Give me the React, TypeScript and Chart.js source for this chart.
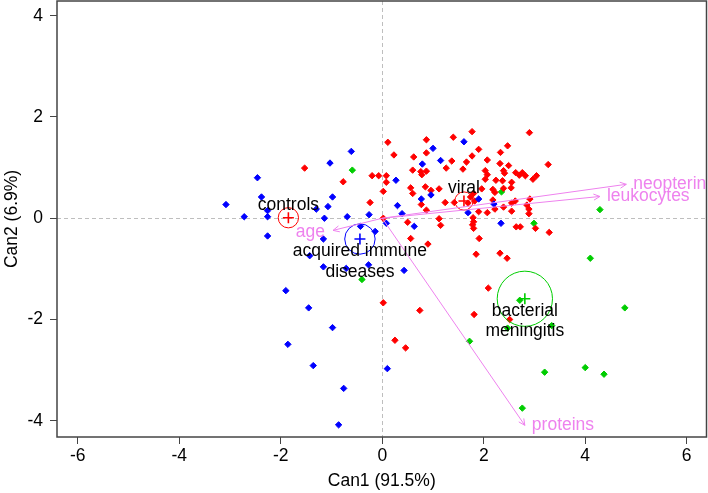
import React, { useEffect, useRef } from 'react';
import { Chart, registerables } from 'chart.js';

Chart.register(...registerables);

// ---------------- data ----------------
const xTicks = [-6, -4, -2, 0, 2, 4, 6];
const yTicks = [-4, -2, 0, 2, 4];
const X_MIN = -6.41;
const X_MAX = 6.39;
const Y_MIN = -4.32;
const Y_MAX = 4.29;

const bluePoints: [number, number][] = [
  [-0.61, 1.32], [1.61, 1.51], [1.0, 1.38], [0.79, 1.07], [1.15, 1.14], [0.27, 0.75], [0.77, 0.38], [0.96, 0.46],
  [0.3, 0.25], [-0.26, 0.07], [0.39, 0.09], [-0.69, 0.03], [0.08, -0.1], [0.63, -0.16], [1.69, 0.11], [1.9, 0.38],
  [2.2, 0.28], [2.34, -0.1], [-0.43, -0.16], [-0.14, -0.26], [-3.08, 0.27], [-2.72, 0.03], [-2.46, 0.8], [-2.38, 0.42],
  [-2.26, 0.15], [-2.26, 0.03], [-2.26, -0.35], [-1.3, 0.18], [-1.07, 0.23], [-1.03, 1.09], [-0.98, 0.42], [-1.14, 0.0],
  [-1.16, -0.41], [-1.43, -0.74], [-1.16, -0.96], [-0.71, -0.99], [-1.9, -1.43], [-1.45, -1.77], [-0.98, -2.16],
  [-1.86, -2.49], [-1.36, -2.91], [-0.76, -3.36], [-0.86, -4.08], [-0.27, -0.92], [0.43, -1.03], [0.1, -2.97],
];

const redPoints: [number, number][] = [
  [-1.53, 0.99], [-0.77, 0.72], [0.11, 1.5], [0.23, 1.25], [0.87, 1.55], [1.4, 1.6], [1.77, 1.71], [2.9, 1.69],
  [1.9, 1.36], [2.47, 1.43], [2.33, 1.3], [0.87, 1.29], [0.62, 1.21], [1.37, 1.13], [1.77, 1.23], [1.66, 1.11],
  [2.07, 1.15], [2.32, 1.08], [2.49, 1.04], [3.27, 1.06], [0.6, 0.95], [1.26, 0.99], [1.59, 0.97], [0.76, 0.92],
  [0.87, 0.93], [0.78, 0.86], [-0.2, 0.84], [-0.07, 0.84], [0.08, 0.84], [0.08, 0.71], [2.03, 0.94], [2.07, 0.86],
  [2.39, 0.94], [2.41, 0.89], [2.63, 0.9], [2.76, 0.9], [2.7, 0.85], [2.82, 0.84], [3.04, 0.84], [2.97, 0.77],
  [2.37, 0.74], [2.24, 0.75], [2.55, 0.71], [2.03, 0.77], [0.85, 0.62], [1.12, 0.58], [0.56, 0.6], [0.96, 0.55],
  [0.6, 0.49], [0.02, 0.53], [1.8, 0.49], [1.96, 0.58], [2.18, 0.57], [2.22, 0.51], [2.39, 0.59], [2.54, 0.6],
  [2.18, 0.36], [2.91, 0.38], [2.62, 0.34], [2.55, 0.3], [2.22, 0.18], [2.39, 0.22], [2.85, 0.26], [2.89, 0.18],
  [2.89, 0.09], [2.55, 0.14], [2.07, 0.11], [1.9, 0.13], [1.79, 0.01], [1.8, -0.07], [1.8, -0.2], [1.78, -0.13],
  [1.91, -0.4], [0.77, 0.27], [0.87, 0.16], [1.24, 0.31], [1.42, 0.31], [1.69, 0.3], [1.82, 0.34], [1.74, 0.42],
  [-0.24, 0.31], [1.12, -0.01], [1.15, -0.14], [0.5, -0.08], [0.56, -0.4], [0.9, -0.51], [2.64, -0.17], [2.72, -0.17],
  [3.02, -0.2], [3.29, -0.28], [0.02, 0.0], [1.85, -0.71], [2.32, -0.69], [2.46, -0.79], [2.09, -1.38], [0.02, -1.67],
  [0.74, -1.82], [1.81, -1.9], [2.51, -2.0], [0.25, -2.41], [0.46, -2.56],
];

const greenPoints: [number, number][] = [
  [-0.59, 0.95], [2.35, 0.52], [4.29, 0.17], [2.99, -0.1], [-0.4, -1.21], [4.1, -0.79], [4.78, -1.77], [2.71, -1.62],
  [2.47, -2.17], [3.34, -2.12], [1.72, -2.43], [3.2, -3.04], [4.0, -2.95], [4.37, -3.08], [2.76, -3.75],
];

const groupNames = ['controls', 'viral', 'acquired immune\ndiseases', 'bacterial\nmeningitis'];
const groupCentroidX = [-1.85, 1.61, -0.44, 2.81];
const groupCentroidY = [0.01, 0.34, -0.41, -1.59];
const groupRadius = [0.2, 0.18, 0.3, 0.545];

const varNames = ['neopterin', 'leukocytes', 'proteins', 'age'];
const varX = [4.81, 4.29, 2.81, -0.97];
const varY = [0.67, 0.43, -4.09, -0.24];

// ---------------- styles ----------------
const FONT = "Arial, 'Liberation Sans', sans-serif";
const FONT_SIZE = 17.5;
const RED = '#FF0000';
const BLUE = '#0000FF';
const GREEN = '#00CD00';
const VIOLET = '#EE82EE';
const groupColors = [RED, RED, BLUE, GREEN];

const overlay = {
  id: 'overlay',
  beforeDatasetsDraw(chart: any) {
    const { ctx, chartArea: a, scales } = chart;
    const x0 = Math.round(scales.x.getPixelForValue(0)) + 0.5;
    const y0 = Math.round(scales.y.getPixelForValue(0)) + 0.5;
    ctx.save();
    ctx.strokeStyle = '#BEBEBE';
    ctx.lineWidth = 1;
    ctx.setLineDash([4, 3]);
    ctx.beginPath();
    ctx.moveTo(x0, a.top);
    ctx.lineTo(x0, a.bottom);
    ctx.moveTo(a.left, y0);
    ctx.lineTo(a.right, y0);
    ctx.stroke();
    ctx.restore();
  },
  afterDatasetsDraw(chart: any) {
    const { ctx, scales } = chart;
    const xs = scales.x;
    const ys = scales.y;
    ctx.save();
    // group circles
    groupNames.forEach((_, i) => {
      const cx = xs.getPixelForValue(groupCentroidX[i]);
      const cy = ys.getPixelForValue(groupCentroidY[i]);
      const rx = Math.abs(xs.getPixelForValue(groupCentroidX[i] + groupRadius[i]) - cx);
      const ry = Math.abs(ys.getPixelForValue(groupCentroidY[i] + groupRadius[i]) - cy);
      ctx.strokeStyle = groupColors[i];
      ctx.lineWidth = 1;
      ctx.beginPath();
      ctx.ellipse(cx, cy, rx, ry, 0, 0, Math.PI * 2);
      ctx.stroke();
    });
    // arrows
    const ox = xs.getPixelForValue(0);
    const oy = ys.getPixelForValue(0);
    ctx.strokeStyle = VIOLET;
    ctx.fillStyle = VIOLET;
    ctx.lineWidth = 1;
    ctx.font = `${FONT_SIZE}px ${FONT}`;
    ctx.textBaseline = 'middle';
    varNames.forEach((name, i) => {
      const tx = xs.getPixelForValue(varX[i]);
      const ty = ys.getPixelForValue(varY[i]);
      const ang = Math.atan2(ty - oy, tx - ox);
      const len = 7;
      const spread = Math.PI / 7;
      ctx.beginPath();
      ctx.moveTo(ox, oy);
      ctx.lineTo(tx, ty);
      ctx.moveTo(tx - len * Math.cos(ang - spread), ty - len * Math.sin(ang - spread));
      ctx.lineTo(tx, ty);
      ctx.lineTo(tx - len * Math.cos(ang + spread), ty - len * Math.sin(ang + spread));
      ctx.stroke();
      if (tx >= ox) {
        ctx.textAlign = 'left';
        ctx.fillText(name, tx + 7, ty);
      } else {
        ctx.textAlign = 'right';
        ctx.fillText(name, tx - 8, ty + 1.5);
      }
    });
    // group labels
    ctx.fillStyle = '#000';
    ctx.textAlign = 'center';
    groupNames.forEach((name, i) => {
      const cx = xs.getPixelForValue(groupCentroidX[i]);
      const cy = ys.getPixelForValue(groupCentroidY[i]);
      const lines = name.split('\n');
      if (lines.length === 1) {
        ctx.fillText(lines[0], cx, cy - 13);
      } else {
        lines.forEach((ln, k) => ctx.fillText(ln, cx, cy + 12 + k * 20.7));
      }
    });
    ctx.restore();
  },
  afterDraw(chart: any) {
    const { ctx, chartArea: a } = chart;
    ctx.save();
    ctx.strokeStyle = '#444';
    ctx.lineWidth = 1.5;
    ctx.strokeRect(a.left, a.top, a.right - a.left, a.bottom - a.top);
    ctx.restore();
  },
};

const toPts = (arr: [number, number][]) => arr.map(([x, y]) => ({ x, y }));

export default function App() {
  const ref = useRef<HTMLCanvasElement>(null);
  useEffect(() => {
    const pointDs = (label: string, pts: [number, number][], color: string) => ({
      label,
      data: toPts(pts),
      pointStyle: 'rectRot',
      pointRadius: 3.2,
      pointBackgroundColor: color,
      pointBorderColor: color,
      pointBorderWidth: 1,
      showLine: false,
    });
    const chart = new Chart(ref.current as HTMLCanvasElement, {
      type: 'scatter',
      data: {
        datasets: [
          pointDs('blue group', bluePoints, BLUE),
          pointDs('red group', redPoints, RED),
          pointDs('green group', greenPoints, GREEN),
          {
            label: 'centroids',
            data: groupCentroidX.map((x, i) => ({ x, y: groupCentroidY[i] })),
            pointStyle: 'cross',
            pointRadius: 5.5,
            pointBorderWidth: 1.6,
            pointBorderColor: groupColors,
            pointBackgroundColor: groupColors,
            showLine: false,
          } as any,
        ],
      },
      options: {
        animation: false,
        responsive: false,
        maintainAspectRatio: false,
        layout: { autoPadding: false, padding: { top: 1, right: 1.5, left: 0, bottom: 0 } },
        plugins: { legend: { display: false }, tooltip: { enabled: false } },
        scales: {
          x: {
            type: 'linear',
            min: X_MIN,
            max: X_MAX,
            afterBuildTicks: (s: any) => {
              s.ticks = xTicks.map((v) => ({ value: v }));
            },
            afterFit: (s: any) => {
              s.height = 56;
              s.paddingLeft = 0;
              s.paddingRight = 0;
              s.paddingTop = 0;
              s.paddingBottom = 0;
            },
            border: { display: false },
            grid: { drawOnChartArea: false, drawTicks: true, tickLength: 7, color: '#444', lineWidth: 1 },
            ticks: {
              padding: 2,
              color: '#000',
              font: { family: FONT, size: FONT_SIZE },
              callback: (v: any) => String(v),
              maxRotation: 0,
              autoSkip: false,
            },
            title: {
              display: true,
              text: 'Can1 (91.5%)',
              color: '#000',
              font: { family: FONT, size: FONT_SIZE },
              padding: { top: 0, bottom: 1.5 },
            },
          },
          y: {
            type: 'linear',
            min: Y_MIN,
            max: Y_MAX,
            afterBuildTicks: (s: any) => {
              s.ticks = yTicks.map((v) => ({ value: v }));
            },
            afterFit: (s: any) => {
              s.width = 57;
              s.paddingLeft = 0;
              s.paddingRight = 0;
              s.paddingTop = 0;
              s.paddingBottom = 0;
            },
            border: { display: false },
            grid: { drawOnChartArea: false, drawTicks: true, tickLength: 7, color: '#444', lineWidth: 1 },
            ticks: {
              padding: 7,
              color: '#000',
              font: { family: FONT, size: FONT_SIZE },
              callback: (v: any) => String(v),
              autoSkip: false,
            },
            title: {
              display: true,
              text: 'Can2 (6.9%)',
              color: '#000',
              font: { family: FONT, size: FONT_SIZE },
              padding: { top: 1.4, bottom: 0 },
            },
          },
        },
      },
      plugins: [overlay],
    } as any);
    return () => chart.destroy();
  }, []);
  return (
    <div style={{ position: 'absolute', left: 0, top: 0, width: 708, height: 493, background: '#fff' }}>
      <canvas ref={ref} width={708} height={493} style={{ display: 'block' }} />
    </div>
  );
}
